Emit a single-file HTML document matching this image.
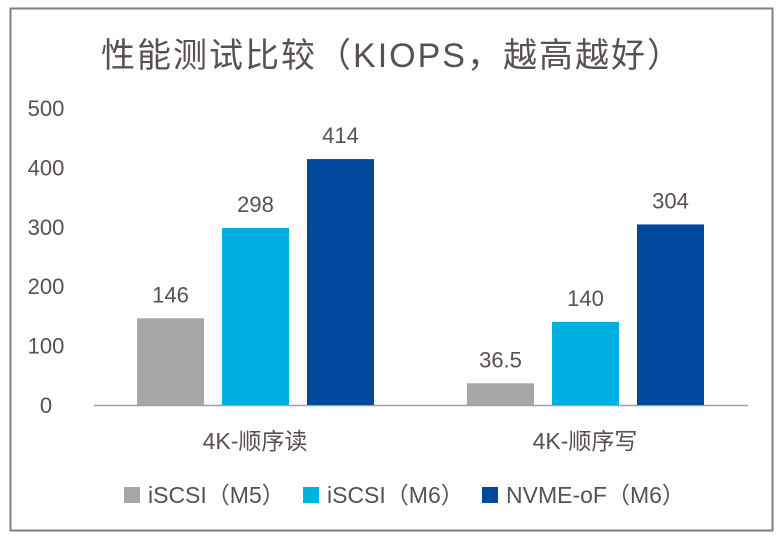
<!DOCTYPE html>
<html><head><meta charset="utf-8"><style>
body{margin:0;background:#fff;}
svg text{font-family:"Liberation Sans","Noto Sans CJK SC",sans-serif;fill:#595050;}
</style></head><body>
<svg id="chart" width="781" height="538" xmlns="http://www.w3.org/2000/svg">
<rect x="10.5" y="8.5" width="762" height="522" fill="#fff" stroke="#7f7f7f" stroke-width="2"/>
<text x="392" y="67" font-size="34" letter-spacing="2" text-anchor="middle">性能测试比较（KIOPS，越高越好）</text>
<g id="yaxis"></g>
<line x1="94" y1="405.5" x2="748" y2="405.5" stroke="#a0a0a0" stroke-width="1.5"/>
<g id="bars"></g>
<g id="legend"></g>
</svg>
<script>
const categories=["4K-顺序读","4K-顺序写"];
const seriesNames=["iSCSI（M5）","iSCSI（M6）","NVME-oF（M6）"];
const seriesM5=[146,36.5];
const seriesM6=[298,140];
const seriesNvme=[414,304];
const valueLabels=[["146","36.5"],["298","140"],["414","304"]];
const yTicks=[0,100,200,300,400,500];
const colors=["#a6a6a6","#00b0e0","#00489c"];
const NS="http://www.w3.org/2000/svg";
const y0=405,yScale=(405-108)/500;
function yPos(v){return y0-v*yScale;}
function groupX(i){return 137+i*330;}
function mk(tag,attrs,parent){const e=document.createElementNS(NS,tag);for(const k in attrs)e.setAttribute(k,attrs[k]);parent.appendChild(e);return e;}
const ya=document.getElementById('yaxis');
yTicks.forEach(t=>{const e=mk('text',{x:46,y:yPos(t)+8,'font-size':22,'text-anchor':'middle'},ya);


e.textContent=t;});
const bars=document.getElementById('bars');
const all=[seriesM5,seriesM6,seriesNvme];
categories.forEach((c,i)=>{
 all.forEach((s,j)=>{
  const x=groupX(i)+j*85;const y=yPos(s[i]);
  const r=mk('rect',{x:x,y:y,width:67,height:y0-y,fill:colors[j]},bars);
  
  
  const t=mk('text',{x:x+33.5,y:y-16,'font-size':22,'text-anchor':'middle'},bars);
  
  
  t.textContent=valueLabels[j][i];
 });
 const ct=mk('text',{x:groupX(i)+118,y:449,'font-size':23,'text-anchor':'middle'},bars);
 
 
 ct.textContent=c;
});
const lg=document.getElementById('legend');
const lx=[124,303,482];
seriesNames.forEach((n,j)=>{
 const r=mk('rect',{x:lx[j],y:487,width:16,height:16,fill:colors[j]},lg);
 
 
 const t=mk('text',{x:lx[j]+24,y:503,'font-size':23},lg);
 
 
 t.textContent=n;
});
</script>
</body></html>
